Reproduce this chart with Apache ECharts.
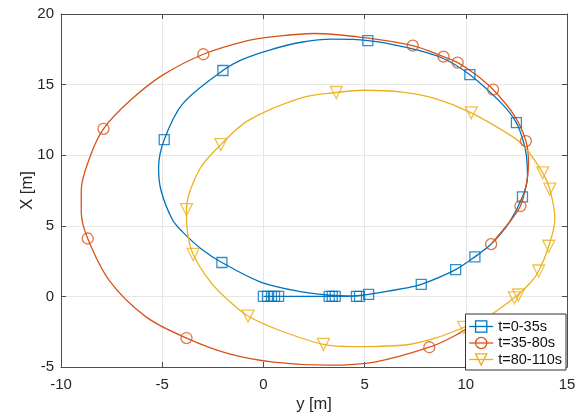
<!DOCTYPE html>
<html><head><meta charset="utf-8">
<script src="https://cdn.jsdelivr.net/npm/echarts@6/dist/echarts.min.js"></script>
<style>html,body{margin:0;padding:0;background:#fff}#c{width:582px;height:418px}</style>
</head><body><div id="c"></div>
<script>
// ---- data ----
const seriesNames = ['t=0-35s', 't=35-80s', 't=80-110s'];
const xTickValues = [-10, -5, 0, 5, 10, 15];
const yTickValues = [-5, 0, 5, 10, 15, 20];
const xLabel = 'y [m]';
const yLabel = 'X [m]';

const bluePath = [
  [0,0],[0.75,0],[3.3,0],[4.6,0.02],[5.2,0.15],[7.0,0.58],[7.8,0.85],[9.5,1.9],[10.45,2.8],
  [11.25,3.7],[12.15,5.25],[12.8,7.05],[13.05,8.5],[13.0,9.9],[12.86,10.9],[12.5,12.3],
  [11.78,13.65],[10.2,15.7],[8.8,16.9],[7.01,17.65],[5.16,18.12],[3.4,18.22],[1.87,18.0],
  [0.3,17.45],[-1.0,16.8],[-2.0,16.0],[-3.98,13.65],[-4.9,11.1],[-5.18,9.1],[-5.06,7.52],
  [-4.5,5.45],[-3.98,4.55],[-3.1,3.4],[-2.05,2.4],[-0.1,1.0],[2.0,0.3],[3.3,0.08],[4.2,0.03],
  [5.2,0.15],[7.0,0.58],[7.8,0.85],[9.5,1.9],[10.45,2.8],[11.25,3.7]
];
const blueMarkers = [
  [0,0],[0.2,0],[0.4,0],[0.55,0],[0.75,0],[3.25,0],[3.4,0],[3.55,0],[4.6,0],[4.75,0],
  [5.2,0.15],[7.8,0.85],[9.5,1.9],[10.45,2.8],[12.8,7.05],[12.5,12.3],[10.2,15.7],
  [5.16,18.12],[-2.0,16.0],[-4.9,11.1],[-2.05,2.4]
];

const orangePath = [
  [11.25,3.7],[12.15,5.25],[12.7,6.4],[13.0,8.0],[13.1,9.4],[12.97,11.0],[12.4,12.8],
  [11.35,14.65],[10.5,15.7],[9.6,16.56],[8.9,16.98],[7.38,17.76],[5.0,18.32],[2.5,18.62],
  [0.5,18.4],[-0.78,18.12],[-2.97,17.15],[-5.0,15.65],[-6.6,13.85],[-7.9,11.87],
  [-8.55,9.95],[-9.0,7.5],[-9.0,6.0],[-8.68,4.1],[-7.6,1.1],[-5.8,-1.45],[-3.8,-2.95],
  [-1.73,-4.05],[0.5,-4.65],[3.2,-4.87],[5.5,-4.65],[8.2,-3.6],[9.5,-2.75],[10.5,-1.85],
  [11.0,-1.4]
];
const orangeMarkers = [
  [11.25,3.7],[12.7,6.4],[12.97,11.0],[11.35,14.65],[9.6,16.56],[8.9,16.98],[7.38,17.76],
  [-2.97,17.15],[-7.9,11.87],[-8.68,4.1],[-3.8,-2.95],[8.2,-3.6]
];

const yellowPath = [
  [11.0,-1.55],[12.4,-0.1],[13.18,0.95],[13.6,1.8],[14.1,3.55],[14.4,5.5],[14.15,7.6],
  [13.8,8.75],[12.9,10.6],[12.27,11.35],[10.27,13.0],[8.5,14.0],[6.88,14.46],[5.0,14.6],
  [3.6,14.44],[1.87,14.06],[-0.76,12.45],[-2.1,10.75],[-3.15,9.0],[-3.8,6.15],[-3.75,4.55],
  [-3.47,2.97],[-2.6,1.0],[-1.67,-0.35],[-0.76,-1.39],[0.75,-2.38],[2.97,-3.4],[4.5,-3.56],
  [6.88,-3.46],[8.5,-2.95],[9.9,-2.2],[11.0,-1.55]
];
const yellowMarkers = [
  [12.4,-0.1],[12.6,0.1],[13.6,1.8],[14.1,3.55],[14.15,7.6],[13.8,8.75],[10.27,13.0],
  [3.6,14.44],[-2.1,10.75],[-3.8,6.15],[-3.47,2.97],[-0.76,-1.39],[2.97,-3.4],[9.9,-2.2]
];

// ---- styling ----
const colors = ['#0072BD', '#D95319', '#EDB120'];
const symbols = ['rect', 'circle', 'triangle'];
const symbolSizes = [10, 11, 12];
const symbolRotates = [0, 0, 180];
const paths = [bluePath, orangePath, yellowPath];
const markers = [blueMarkers, orangeMarkers, yellowMarkers];
const FONT = '"Liberation Sans", Arial, sans-serif';
const TXT = '#262626';

const series = [];
for (let i = 0; i < 3; i++) {
  series.push({
    name: seriesNames[i], type: 'line', data: paths[i], smooth: 0.33,
    showSymbol: false, symbol: symbols[i], symbolSize: symbolSizes[i], symbolRotate: symbolRotates[i],
    lineStyle: { color: colors[i], width: 1.3 },
    itemStyle: { color: 'transparent', borderColor: colors[i], borderWidth: 1.3 },
    silent: true, animation: false, z: 2 + i * 0.1
  });
}
for (let i = 0; i < 3; i++) {
  series.push({
    name: 'markers' + i, type: 'scatter', data: markers[i],
    symbol: symbols[i], symbolSize: symbolSizes[i], symbolRotate: symbolRotates[i],
    itemStyle: { color: 'transparent', borderColor: colors[i], borderWidth: 1.3 },
    silent: true, animation: false, z: 3
  });
}

const axisCommon = {
  type: 'value', interval: 5,
  axisLine: { show: true, onZero: false, lineStyle: { color: '#4d4d4d', width: 1 } },
  axisTick: { show: true, inside: true, length: 5, lineStyle: { color: '#4d4d4d' } }
};
const chart = echarts.init(document.getElementById('c'), null, { renderer: 'canvas' });
chart.setOption({
  animation: false,
  backgroundColor: '#fff',
  grid: { left: 61, right: 15, top: 14, bottom: 51, containLabel: false },
  xAxis: [
    Object.assign({}, axisCommon, {
      min: xTickValues[0], max: xTickValues[xTickValues.length - 1], position: 'bottom',
      name: xLabel, nameLocation: 'middle', nameGap: 29, nameMoveOverlap: false,
      nameTextStyle: { color: TXT, fontSize: 16.5, fontFamily: FONT },
      axisLabel: { color: TXT, fontSize: 15, fontFamily: FONT, margin: 10 },
      splitLine: { show: true, lineStyle: { color: '#e6e6e6', width: 1 } }
    }),
    Object.assign({}, axisCommon, {
      min: xTickValues[0], max: xTickValues[xTickValues.length - 1], position: 'top',
      axisLabel: { show: false }, splitLine: { show: false }
    })
  ],
  yAxis: [
    Object.assign({}, axisCommon, {
      min: yTickValues[0], max: yTickValues[yTickValues.length - 1], position: 'left',
      name: yLabel, nameLocation: 'middle', nameGap: 25, nameMoveOverlap: false,
      nameTextStyle: { color: TXT, fontSize: 16.5, fontFamily: FONT },
      axisLabel: { color: TXT, fontSize: 15, fontFamily: FONT, margin: 7 },
      splitLine: { show: true, lineStyle: { color: '#e6e6e6', width: 1 } }
    }),
    Object.assign({}, axisCommon, {
      min: yTickValues[0], max: yTickValues[yTickValues.length - 1], position: 'right',
      axisLabel: { show: false }, splitLine: { show: false }
    })
  ],
  legend: {
    orient: 'vertical', right: 16, bottom: 48,
    backgroundColor: '#fff', borderColor: '#333', borderWidth: 1,
    padding: [5, 4, 3, 3], itemGap: 1.5, itemWidth: 24, itemHeight: 14,
    textStyle: { color: '#111', fontSize: 14.5, fontFamily: FONT },
    data: seriesNames.map((n, i) => ({
      name: n,
      itemStyle: { color: 'transparent', borderColor: colors[i], borderWidth: 1.3 },
      lineStyle: { color: colors[i], width: 1.3 }
    })),
    selectedMode: false
  },
  series: series
});
</script>
</body></html>
